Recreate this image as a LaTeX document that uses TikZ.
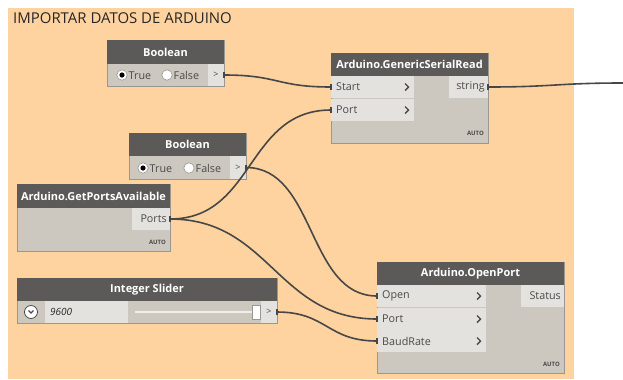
\documentclass[tikz,border=0pt]{standalone}
\usepackage{fontspec}
\setmainfont{Open Sans}
\definecolor{bgorange}{HTML}{FFD3A0}
\definecolor{hdr}{HTML}{5B5A58}
\definecolor{bodyc}{HTML}{CCC7BF}
\definecolor{cellc}{HTML}{E4E2DE}
\definecolor{edgec}{HTML}{9A9690}
\definecolor{wirec}{HTML}{474747}
\definecolor{txtc}{HTML}{4A4A4A}
\tikzset{
  box/.style={draw=edgec, fill=bodyc, line width=0.8bp, anchor=north west, inner sep=0, outer sep=0},
  hdrbox/.style={fill=hdr, anchor=north west, inner sep=0, outer sep=0, text=white,
    font=\fontsize{11}{13}\selectfont\bfseries, minimum height=23bp},
  cellbox/.style={fill=cellc, anchor=north west, inner sep=0, outer sep=0, minimum height=22bp},
  lbl/.style={text=txtc, font=\fontsize{10.8}{13}\selectfont, inner sep=0},
  autolbl/.style={text=txtc, font=\fontsize{6}{7}\selectfont\bfseries, inner sep=0, anchor=east},
  wire/.style={draw=wirec, line width=1.6bp},
  chevron/.style={draw=txtc, line width=1.4bp},
  radio/.style={draw=edgec, fill=white, line width=0.6bp},
}
\newcommand\chevat[1]{\draw[chevron] ([xshift=-9bp,yshift=3.5bp]#1.east) -- ++(3.5bp,-3.5bp) -- ++(-3.5bp,-3.5bp);}
\newcommand\nubin[1]{\draw[wirec, line width=2.5bp] ([yshift=3bp]#1.west) -- ([yshift=-3bp]#1.west);}
\newcommand\nubout[1]{\draw[wirec, line width=2.5bp] ([yshift=3bp]#1.east) -- ([yshift=-3bp]#1.east);}
\begin{document}
\begin{tikzpicture}[x=1bp, y=-1bp]
\useasboundingbox (0,0) rectangle (623,379);
\fill[white] (0,0) rectangle (623,379);
\fill[bgorange] (8,8) rectangle (574,379);
\node[anchor=west, inner sep=0, text=black!85, font=\fontsize{15}{17}\selectfont] (title) at (13,18) {IMPORTAR DATOS DE ARDUINO};

% ---------- Boolean 1
\node[box, minimum width=117bp, minimum height=46bp] (b1) at (107,40) {};
\node[hdrbox, minimum width=117bp, minimum height=24bp] (b1h) at (107,40) {Boolean};
\node[cellbox, minimum width=16bp, minimum height=22bp, lbl, font=\fontsize{9}{10}\selectfont] (b1out) at (208,64) {>};
\draw[radio] (122,75) circle (5.2bp); \fill[black] (122,75) circle (2.6bp);
\node[lbl, anchor=west] (b1t) at (128.5,75.5) {True};
\draw[radio] (167,75) circle (5.2bp);
\node[lbl, anchor=west] (b1f) at (173.5,75.5) {False};

% ---------- GenericSerialRead
\node[box, minimum width=157bp, minimum height=90bp] (gsr) at (331,53) {};
\node[hdrbox, minimum width=157bp] (gsrh) at (331,53) {Arduino.GenericSerialRead};
\node[cellbox, minimum width=83bp] (gsrstart) at (331,76) {};
\node[lbl, anchor=west] at ([xshift=5bp]gsrstart.west) {Start};
\chevat{gsrstart}
\node[cellbox, minimum width=83bp] (gsrport) at (331,99) {};
\node[lbl, anchor=west] at ([xshift=5bp]gsrport.west) {Port};
\chevat{gsrport}
\node[cellbox, minimum width=39bp] (gsrout) at (449,76) {};
\node[lbl, anchor=east] at ([xshift=-3bp]gsrout.east) {string};
\node[autolbl] at (484,133) {AUTO};

% ---------- Boolean 2
\node[box, minimum width=117bp, minimum height=46bp] (b2) at (129,133) {};
\node[hdrbox, minimum width=117bp] (b2h) at (129,133) {Boolean};
\node[cellbox, minimum width=16bp, minimum height=23bp, lbl, font=\fontsize{9}{10}\selectfont] (b2out) at (230,156) {>};
\draw[radio] (143,168) circle (5.2bp); \fill[black] (143,168) circle (2.6bp);
\node[lbl, anchor=west] (b2t) at (149.5,168.5) {True};
\draw[radio] (189,168) circle (5.2bp);
\node[lbl, anchor=west] (b2f) at (195.5,168.5) {False};

% ---------- GetPortsAvailable
\node[box, minimum width=153bp, minimum height=67bp] (gp) at (17,184) {};
\node[hdrbox, minimum width=153bp, minimum height=24bp] (gph) at (17,184) {Arduino.GetPortsAvailable};
\node[cellbox, minimum width=38bp] (gpout) at (132,208) {};
\node[lbl, anchor=east] at ([xshift=-3bp]gpout.east) {Ports};
\node[autolbl] at (166,242) {AUTO};

% ---------- Integer Slider
\node[box, minimum width=260bp, minimum height=45bp] (sl) at (17,278) {};
\node[hdrbox, minimum width=260bp] (slh) at (17,278) {Integer Slider};
\node[cellbox, minimum width=83bp] (slval) at (45,301) {};
\node[lbl, anchor=west, text=black!85, font=\fontsize{10}{12}\selectfont\itshape] at ([xshift=5bp]slval.west) {9600};
\draw[draw=txtc, fill=white, line width=0.8bp] (31,312) circle (6.5bp);
\draw[draw=txtc, line width=1.2bp] (28.5,310.5) -- (31,313) -- (33.5,310.5);
\draw[draw=cellc!60!white, line width=2.2bp] (135,312) -- (255,312);
\draw[draw=edgec, fill=white, line width=0.6bp] (252,305) rectangle (260,319);
\node[cellbox, minimum width=16bp, lbl, font=\fontsize{9}{10}\selectfont] (slout) at (261,301) {>};

% ---------- OpenPort
\node[box, minimum width=187bp, minimum height=111bp] (op) at (377,262) {};
\node[hdrbox, minimum width=187bp] (oph) at (377,262) {Arduino.OpenPort};
\node[cellbox, minimum width=109bp] (opopen) at (377,285) {};
\node[lbl, anchor=west] at ([xshift=5bp]opopen.west) {Open};
\chevat{opopen}
\node[cellbox, minimum width=109bp] (opport) at (377,308) {};
\node[lbl, anchor=west] at ([xshift=5bp]opport.west) {Port};
\chevat{opport}
\node[cellbox, minimum width=109bp] (opbaud) at (377,330) {};
\node[lbl, anchor=west] at ([xshift=5bp]opbaud.west) {BaudRate};
\chevat{opbaud}
\node[cellbox, minimum width=43bp] (opout) at (521,285) {};
\node[lbl, anchor=east] at ([xshift=-3bp]opout.east) {Status};
\node[autolbl] at (560,364) {AUTO};

% ---------- wires
\coordinate (wend) at (623,83);
\draw[wire] (b1out.east) .. controls +(55,0) and +(-55,0) .. (gsrstart.west);
\draw[wire] (gpout.east) .. controls +(85,0) and +(-85,0) .. (gsrport.west);
\draw[wire] (b2out.east) .. controls +(70,0) and +(-70,0) .. (opopen.west);
\draw[wire] (gpout.east) .. controls +(100,0) and +(-100,0) .. (opport.west);
\draw[wire] (slout.east) .. controls +(50,0) and +(-50,0) .. (opbaud.west);
\draw[wire] (gsrout.east) .. controls +(65,0) and +(-65,0) .. (wend);
\nubin{gsrstart}\nubin{gsrport}\nubin{opopen}\nubin{opport}\nubin{opbaud}
\nubout{b1out}\nubout{b2out}\nubout{gpout}\nubout{slout}\nubout{gsrout}
\end{tikzpicture}
\end{document}
